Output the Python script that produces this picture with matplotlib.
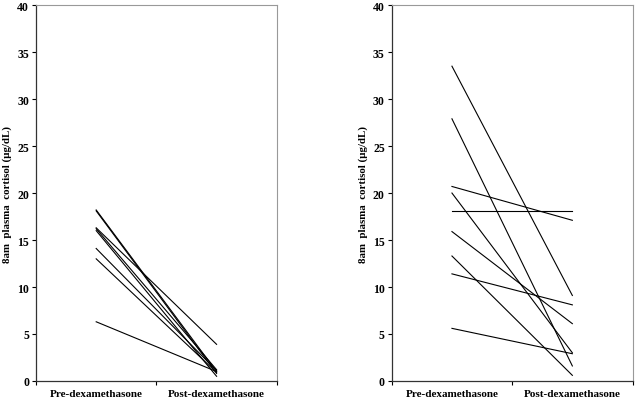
import matplotlib
matplotlib.use("Agg")
import matplotlib.pyplot as plt

# left panel: pre / post dexamethasone 8am cortisol (ug/dL)
left_pre = [18.2, 18.1, 16.3, 16.2, 16.0, 14.1, 13.0, 6.3]
left_post = [1.0, 0.8, 3.9, 1.2, 0.5, 1.1, 0.9, 1.0]

# right panel
right_pre = [33.5, 27.9, 20.7, 20.0, 18.05, 15.9, 13.3, 11.4, 5.6]
right_post = [9.1, 1.6, 17.1, 3.0, 18.05, 6.1, 0.6, 8.1, 2.9]

categories = ["Pre-dexamethasone", "Post-dexamethasone"]
yticks = [0, 5, 10, 15, 20, 25, 30, 35, 40]

plt.rcParams["font.family"] = ["Liberation Serif", "DejaVu Serif"]
plt.rcParams["font.weight"] = "bold"

fig = plt.figure(figsize=(6.37, 4.02), dpi=100)
ax1 = fig.add_axes([0.0565, 0.0498, 0.378, 0.935])
ax2 = fig.add_axes([0.615, 0.0498, 0.378, 0.935])


def draw_panel(ax, pre, post):
    for a, b in zip(pre, post):
        ax.plot([0.5, 1.5], [a, b], color="black", linewidth=0.8)
    ax.set_xlim(0, 2)
    ax.set_ylim(0, 40)
    ax.set_yticks(yticks)
    ax.set_yticklabels([str(t) for t in yticks], fontsize=8.5, fontweight="bold")
    ax.set_xticks([0, 1, 2])
    ax.set_xticklabels([])
    ax.set_xticks([0.5, 1.5], minor=True)
    ax.set_xticklabels(categories, minor=True, fontsize=8, fontweight="bold")
    ax.tick_params(axis="x", which="minor", length=0, pad=6)
    ax.tick_params(axis="x", which="major", length=3, direction="out")
    ax.tick_params(axis="y", length=3, direction="out", pad=2)
    ax.set_ylabel("8am  plasma  cortisol (\u00b5g/dL)", fontsize=7.8, fontweight="bold")
    ax.yaxis.set_label_coords(-0.10, 0.5)
    for side in ["top", "right"]:
        ax.spines[side].set_color("#999999")
        ax.spines[side].set_linewidth(0.8)
    for side in ["left", "bottom"]:
        ax.spines[side].set_color("#333333")
        ax.spines[side].set_linewidth(0.9)


draw_panel(ax1, left_pre, left_post)
draw_panel(ax2, right_pre, right_post)

fig.savefig("out.png", dpi=100)
